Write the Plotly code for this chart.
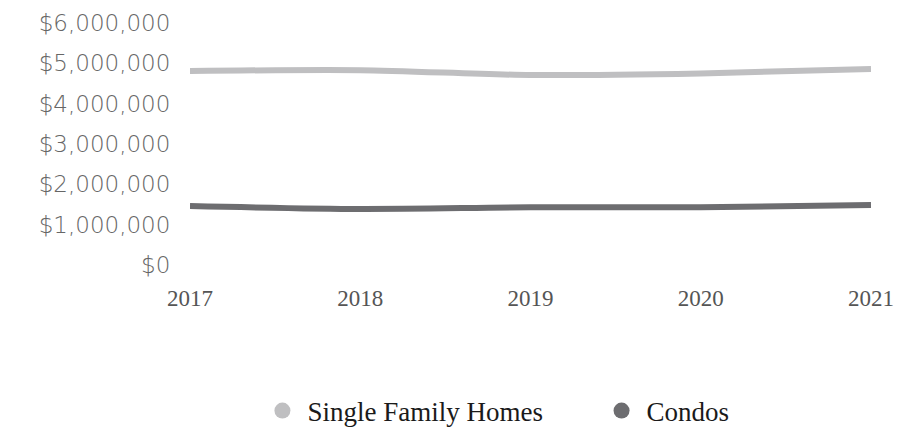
import plotly.graph_objects as go

years = ["2017", "2018", "2019", "2020", "2021"]
single_family = [4810000, 4830000, 4710000, 4750000, 4860000]
condos = [1460000, 1390000, 1430000, 1430000, 1490000]
y_ticks = [0, 1000000, 2000000, 3000000, 4000000, 5000000, 6000000]
y_tick_labels = ["$0", "$1,000,000", "$2,000,000", "$3,000,000",
                 "$4,000,000", "$5,000,000", "$6,000,000"]

series = [
    ("Single Family Homes", single_family, "#bfbfc1", "legend", 0.099),
    ("Condos", condos, "#6d6d70", "legend2", 0.597),
]

W, H = 912, 432
M_L, M_R, M_T, M_B = 190, 41, 23, 167
plot_h = H - M_T - M_B
legend_center_px = 411
legend_y = -(legend_center_px - (H - M_B)) / plot_h

fig = go.Figure()
for name, vals, color, leg, lx in series:
    fig.add_trace(go.Scatter(
        x=years, y=vals, mode="lines", name=name, legendgroup=name,
        line=dict(color=color, width=6, shape="spline", smoothing=0.8),
        showlegend=False, hoverinfo="x+y",
    ))
for name, vals, color, leg, lx in series:
    fig.add_trace(go.Scatter(
        x=[None], y=[None], mode="markers", name=name, legendgroup=name,
        marker=dict(color=color, size=17, symbol="circle"),
        showlegend=True, legend=leg,
    ))

legend_style = dict(
    orientation="h", xanchor="left", y=legend_y, yanchor="middle",
    font=dict(family="Liberation Serif", size=27, color="#1a1a1a"),
    itemsizing="trace", itemwidth=40, bgcolor="rgba(0,0,0,0)",
)

fig.update_layout(
    width=W, height=H,
    margin=dict(l=M_L, r=M_R, t=M_T, b=M_B, autoexpand=False),
    paper_bgcolor="white", plot_bgcolor="white",
    xaxis=dict(
        type="category", range=[0, 4], showgrid=False, zeroline=False,
        showline=False, ticks="outside", ticklen=12, tickcolor="rgba(0,0,0,0)",
        tickfont=dict(family="Liberation Serif", size=23, color="#555555"),
        automargin=False,
    ),
    yaxis=dict(
        range=[0, 6000000], tickvals=y_ticks, ticktext=y_tick_labels,
        showgrid=False, zeroline=False, showline=False,
        ticks="outside", ticklen=14, tickcolor="rgba(0,0,0,0)",
        tickfont=dict(family="DejaVu Sans", size=23, color="#666666", weight=300),
        automargin=False,
    ),
    legend=dict(x=series[0][4], **legend_style),
    legend2=dict(x=series[1][4], **legend_style),
)

fig.write_html(
    "out.html",
    config={"displayModeBar": False},
    post_script="document.body.style.margin='0';document.body.style.overflow='hidden';",
)
